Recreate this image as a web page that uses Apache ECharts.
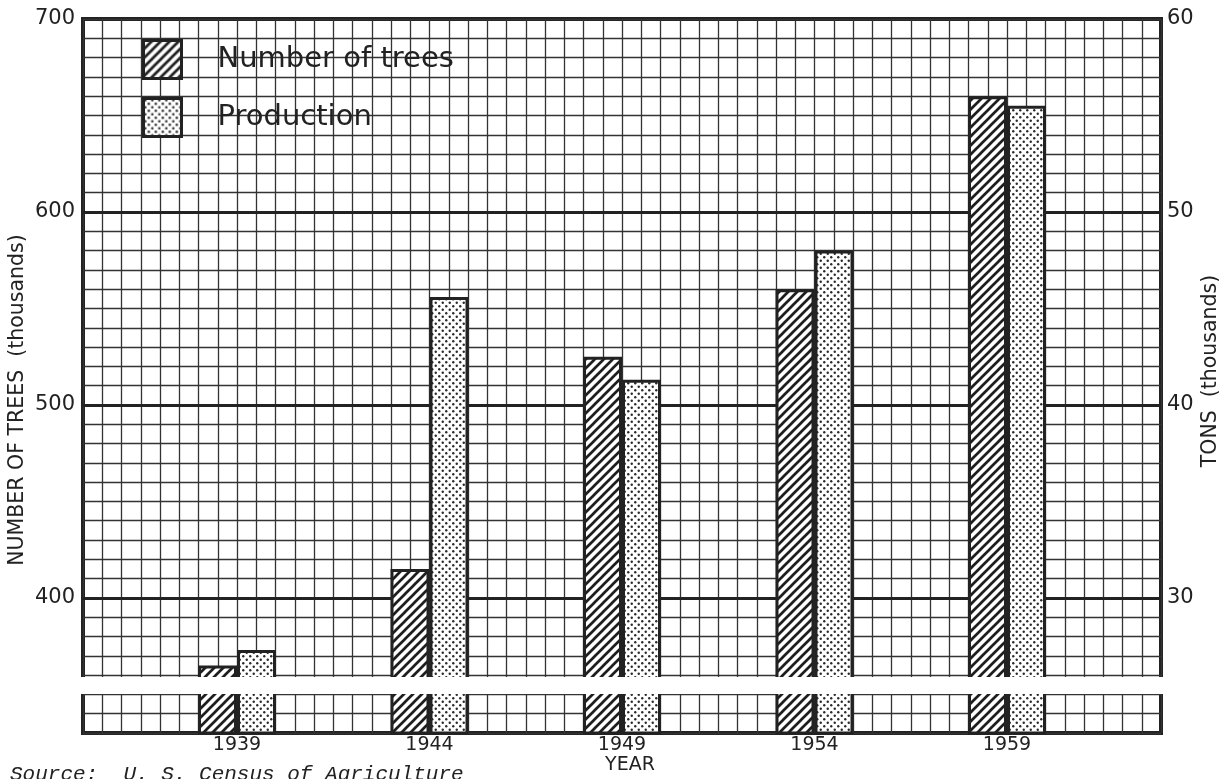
<!DOCTYPE html>
<html><head><meta charset="utf-8">
<script src="https://cdn.jsdelivr.net/npm/echarts@6/dist/echarts.min.js"></script>
<style>html,body{margin:0;padding:0;background:#fff}#c{width:1231px;height:779px}</style>
</head><body><div id="c"></div>
<script>
// ---- data ----
const years = [1939, 1944, 1949, 1954, 1959];
const yearLabels = ['1939', '1944', '1949', '1954', '1959'];
const treesThousands = [365, 415, 525, 560, 660];      // left axis, thousands of trees
const productionTons = [27.3, 45.6, 41.3, 48.0, 55.5]; // right axis, thousands of tons
const leftTickLabels = [400, 500, 600, 700];
const rightTickLabels = [30, 40, 50, 60];
const majorLines = [400, 500, 600];

// ---- patterns ----
function makeHatch() {
  const s = 9;
  const c = document.createElement('canvas'); c.width = s; c.height = s;
  const g = c.getContext('2d');
  g.fillStyle = '#fff'; g.fillRect(0, 0, s, s);
  g.strokeStyle = '#1e1e1e'; g.lineWidth = 2.7; g.beginPath();
  g.moveTo(-2, s + 2); g.lineTo(s + 2, -2);
  g.moveTo(-2, 2); g.lineTo(2, -2);
  g.moveTo(s - 2, s + 2); g.lineTo(s + 2, s - 2);
  g.stroke();
  return c;
}
function makeDots() {
  const c = document.createElement('canvas'); c.width = 7; c.height = 7;
  const g = c.getContext('2d');
  g.fillStyle = '#fff'; g.fillRect(0, 0, 7, 7);
  g.fillStyle = '#2a2a2a';
  [[1.75, 1.75], [5.25, 5.25]].forEach(p => { g.beginPath(); g.arc(p[0], p[1], 1.2, 0, Math.PI * 2); g.fill(); });
  return c;
}
const hatch = { image: makeHatch(), repeat: 'repeat' };
const dots = { image: makeDots(), repeat: 'repeat' };

const FONT = 'DejaVu Sans';
const INK = '#222';
const chart = echarts.init(document.getElementById('c'), null, { renderer: 'canvas' });

const option = {
  animation: false,
  backgroundColor: '#fff',
  grid: { left: 83, right: 70, top: 19, bottom: 46, show: true, borderColor: INK, borderWidth: 4, backgroundColor: 'transparent' },
  legend: {
    left: 142, top: 39, orient: 'vertical', padding: 0, itemGap: 17,
    itemWidth: 38, itemHeight: 38, icon: 'rect', selectedMode: false,
    itemStyle: { borderColor: INK, borderWidth: 3 },
    textStyle: { fontFamily: FONT, fontSize: 29, color: INK, padding: [0, 0, 0, 31] },
    data: ['Number of trees', 'Production']
  },
  xAxis: {
    type: 'value', min: 1935, max: 1963, interval: 0.5,
    axisLine: { show: false }, axisTick: { show: false },
    splitLine: { show: true, lineStyle: { color: '#333', width: 1.3 } },
    axisLabel: {
      margin: 3, fontFamily: FONT, fontSize: 19, color: INK,
      formatter: v => { const i = years.indexOf(v); return i >= 0 ? yearLabels[i] : ''; }
    }
  },
  yAxis: [
    {
      type: 'value', min: 330, max: 700, interval: 10,
      axisLine: { show: false }, axisTick: { show: false },
      splitLine: { show: true, lineStyle: { color: '#333', width: 1.3 } },
      axisLabel: {
        margin: 8, fontFamily: FONT, fontSize: 21, color: INK,
        formatter: v => leftTickLabels.indexOf(v) >= 0 ? String(v) : ''
      }
    },
    {
      type: 'value', min: 23, max: 60, interval: 1, position: 'right',
      axisLine: { show: false }, axisTick: { show: false }, splitLine: { show: false },
      axisLabel: {
        margin: 6, fontFamily: FONT, fontSize: 21, color: INK,
        formatter: v => rightTickLabels.indexOf(v) >= 0 ? String(v) : ''
      }
    }
  ],
  series: [
    {
      name: 'Number of trees', type: 'bar', yAxisIndex: 0, z: 2,
      barWidth: 39, barGap: '0%',
      itemStyle: { color: hatch, borderColor: INK, borderWidth: 3 },
      data: years.map((y, i) => [y, treesThousands[i]]),
      markLine: {
        z: 1, silent: true, symbol: ['none', 'none'], label: { show: false },
        lineStyle: { type: 'solid', color: INK, width: 3 },
        data: majorLines.map(v => ({ yAxis: v }))
      }
    },
    {
      name: 'Production', type: 'bar', yAxisIndex: 1, z: 2,
      barWidth: 39, barGap: '0%',
      itemStyle: { color: dots, borderColor: INK, borderWidth: 3 },
      data: years.map((y, i) => [y, productionTons[i]])
    }
  ],
  graphic: [
    { type: 'rect', z: 100, shape: { x: 70, y: 677, width: 1105, height: 17 }, style: { fill: '#fff' } },
    { type: 'text', z: 100, x: 18, y: 400, rotation: Math.PI / 2,
      style: { text: 'NUMBER OF TREES  (thousands)', font: '20.5px "DejaVu Sans"', fill: INK, align: 'center', verticalAlign: 'middle' } },
    { type: 'text', z: 100, x: 1211, y: 371, rotation: Math.PI / 2,
      style: { text: 'TONS  (thousands)', font: '20.5px "DejaVu Sans"', fill: INK, align: 'center', verticalAlign: 'middle' } },
    { type: 'text', z: 100, x: 630, y: 765,
      style: { text: 'YEAR', font: '19px "DejaVu Sans"', fill: INK, align: 'center', verticalAlign: 'middle' } },
    { type: 'text', z: 100, x: 10, y: 774,
      style: { text: 'Source:  U. S. Census of Agriculture', font: 'italic 21px "Liberation Mono"', fill: INK, align: 'left', verticalAlign: 'middle' } }
  ]
};
chart.setOption(option);
</script>
</body></html>
